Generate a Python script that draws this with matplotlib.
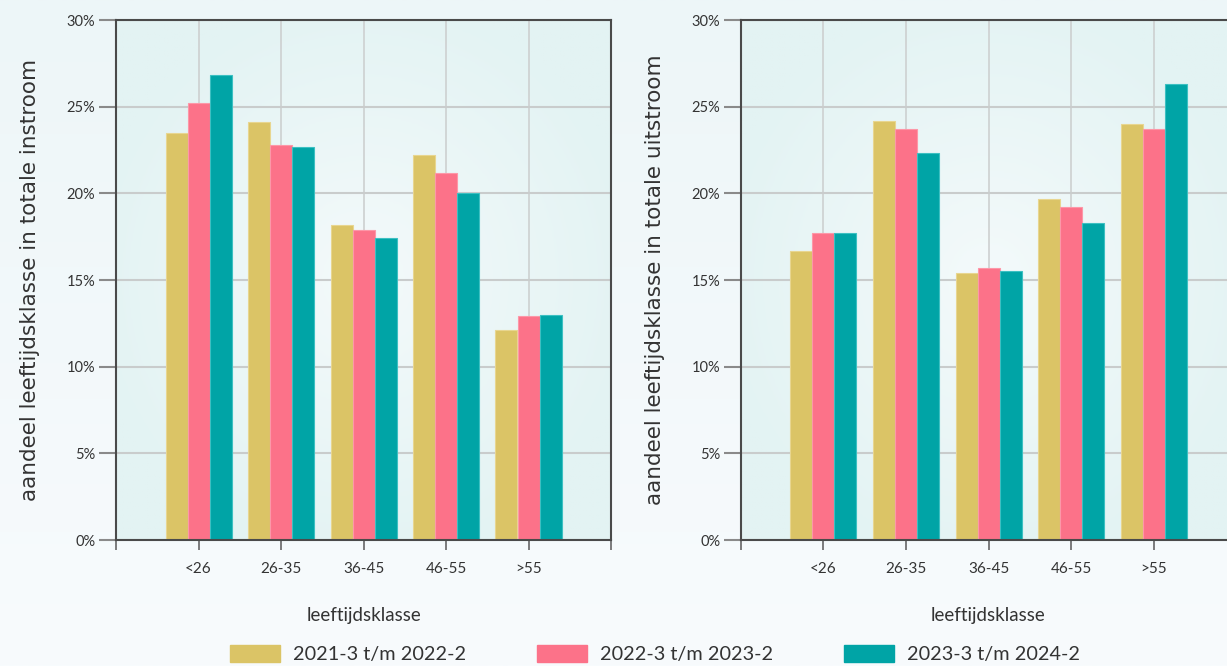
import numpy as np
import matplotlib
matplotlib.use("Agg")
import matplotlib.pyplot as plt
from matplotlib.ticker import FuncFormatter
from matplotlib.colors import LinearSegmentedColormap

categories = ["<26", "26-35", "36-45", "46-55", ">55"]
series_labels = ["2021-3 t/m 2022-2", "2022-3 t/m 2023-2", "2023-3 t/m 2024-2"]
instroom = [
    [23.5, 24.1, 18.2, 22.2, 12.1],
    [25.2, 22.8, 17.9, 21.2, 12.9],
    [26.8, 22.7, 17.4, 20.0, 13.0],
]
uitstroom = [
    [16.7, 24.2, 15.4, 19.7, 24.0],
    [17.7, 23.7, 15.7, 19.2, 23.7],
    [17.7, 22.3, 15.5, 18.3, 26.3],
]
y_labels = ["aandeel leeftijdsklasse in totale instroom",
            "aandeel leeftijdsklasse in totale uitstroom"]
x_label = "leeftijdsklasse"
colors = ["#dbc466", "#fc7289", "#00a4a6"]
edge_colors = ["#e8d690", "#fd97a8", "#3cc0c2"]

plt.rcParams['font.family'] = ['Lato', 'DejaVu Sans']

W, H = 1227, 666
fig = plt.figure(figsize=(W / 100, H / 100), dpi=100)
fig.patch.set_facecolor("#f4fafc")

# figure background gradient
bg = fig.add_axes([0, 0, 1, 1], zorder=-10)
grad = np.linspace(0, 1, 256).reshape(-1, 1)
cm_bg = LinearSegmentedColormap.from_list("bg", ["#edf6f8", "#f8fbfd"])
bg.imshow(grad, aspect="auto", cmap=cm_bg, extent=[0, 1, 0, 1], transform=bg.transAxes)
bg.set_axis_off()

cm_ax = LinearSegmentedColormap.from_list("ax", ["#f4fafb", "#e3f3f3"])
yy, xx = np.mgrid[-1:1:200j, -1:1:200j]
rad = np.clip(np.sqrt((xx * 0.9) ** 2 + (yy * 0.9) ** 2), 0, 1)

ax_w = 495 / W
ax_h = 520 / H
ax_b = (H - 540) / H
lefts = [116 / W, 741 / W]
x = np.arange(1, len(categories) + 1)
bw = 0.8 / 3

for k, (data, yl) in enumerate(zip([instroom, uitstroom], y_labels)):
    ax = fig.add_axes([lefts[k], ax_b, ax_w, ax_h])
    ax.set_facecolor("#e8f5f5")
    ax.imshow(rad, aspect="auto", cmap=cm_ax, extent=[0, 1, 0, 1],
              transform=ax.transAxes, zorder=0)
    for i, vals in enumerate(data):
        ax.bar(x + (i - 1) * bw, vals, width=bw, color=colors[i],
               edgecolor=edge_colors[i], linewidth=0.8, zorder=3,
               label=series_labels[i])
    ax.set_xlim(0, 6)
    ax.set_ylim(0, 30)
    ax.set_yticks(np.arange(0, 31, 5))
    ax.yaxis.set_major_formatter(FuncFormatter(lambda v, p: f"{v:.0f}%"))
    ax.set_xticks(np.arange(0, 7))
    ax.set_xticklabels([""] + categories + [""])
    ax.grid(axis="y", color="#c9cccc", linewidth=1.5, zorder=1)
    ax.grid(axis="x", color="#cdd0d0", linewidth=1.2, zorder=1)
    ax.set_axisbelow(True)
    for s in ax.spines.values():
        s.set_color("#4a4a4a")
        s.set_linewidth(1.5)
        s.set_zorder(5)
    ax.tick_params(axis="y", length=12, width=1.5, color="#8a8a8a",
                   labelsize=10.5, labelcolor="#333333", pad=3)
    ax.tick_params(axis="x", length=7, width=1.2, color="#666666",
                   labelsize=11, labelcolor="#333333", pad=9)
    ax.set_ylabel(yl, fontsize=15.5, color="#333333", labelpad=19,
                  family=['DejaVu Sans'])
    ax.set_xlabel(x_label, fontsize=13.5, color="#333333", labelpad=22)

handles = [plt.Rectangle((0, 0), 1, 1, color=c) for c in colors]
fig.legend(handles, series_labels, loc="lower left",
           bbox_to_anchor=(230 / W, 0.004), ncol=3, frameon=False,
           fontsize=14.3, handlelength=2.5, handleheight=0.9,
           columnspacing=3.6, handletextpad=0.65, labelcolor="#333333",
           borderpad=0, borderaxespad=0)

fig.savefig("out.png", dpi=100, facecolor=fig.get_facecolor())
